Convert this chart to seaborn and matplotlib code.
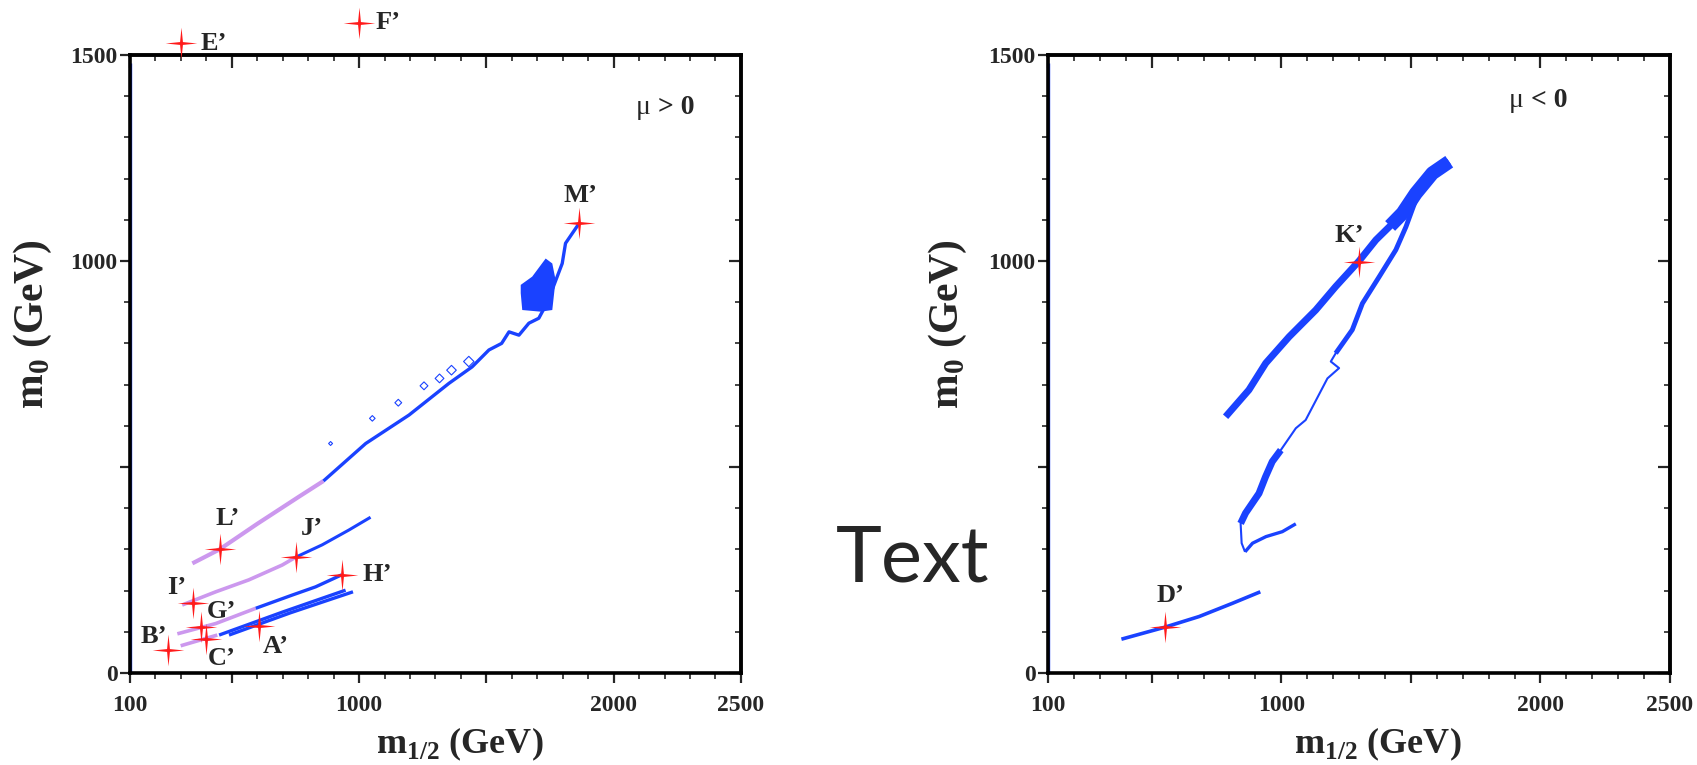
import numpy as np
import pandas as pd
import matplotlib
matplotlib.use("Agg")
import matplotlib.pyplot as plt
from matplotlib.path import Path
from matplotlib.ticker import FixedLocator, MultipleLocator, FixedFormatter
import seaborn as sns

# ---------------- data (GeV) ----------------
# left panel (mu > 0)
main_violet_x = [345, 452, 600, 764, 860]
main_violet_y = [266, 300, 362, 428, 466]
main_blue_x = [860, 1026, 1196, 1353, 1444, 1510, 1560, 1589, 1628, 1667, 1706, 1740, 1798, 1811, 1864]
main_blue_y = [466, 557, 626, 703, 743, 784, 800, 828, 820, 849, 861, 900, 994, 1043, 1091]
blob_x = [1635, 1680, 1733, 1759, 1772, 1759, 1713, 1641, 1635]
blob_y = [942, 962, 1006, 994, 954, 881, 877, 881, 922]
loop_x = [888, 1052, 1154, 1255, 1316, 1363, 1431]
loop_y = [557, 618, 656, 697, 715, 735, 756]
jv_x = [305, 437, 567, 698, 751]
jv_y = [165, 197, 226, 262, 281]
jb_x = [751, 855, 960, 1045]
jb_y = [281, 311, 347, 378]
hv_x = [286, 437, 594]
hv_y = [95, 120, 157]
hb_x = [594, 737, 829, 931]
hb_y = [157, 189, 209, 238]
lv_x = [299, 443]
lv_y = [66, 92]
s1_x = [450, 700, 947]
s1_y = [92, 148, 201]
s2_x = [489, 730, 976]
s2_y = [92, 146, 197]
edge_x = [103, 103]
edge_y = [0, 1480]

left_names = ["E’", "F’", "M’", "L’", "J’", "H’", "I’", "G’", "C’", "A’", "B’"]
left_px = [300, 1000, 1865, 452, 751, 931, 349, 378, 400, 607, 250]
left_py = [1528, 1578, 1092, 300, 281, 238, 171, 112, 83, 115, 56]

# right panel (mu < 0)
ub_x = [785, 875, 940, 1030, 1133, 1210, 1300, 1365, 1420, 1468, 1519, 1583, 1648]
ub_y = [622, 687, 752, 816, 881, 938, 1000, 1051, 1085, 1116, 1164, 1213, 1241]
ubt_x = [1420, 1468, 1519, 1583, 1648]
ubt_y = [1085, 1116, 1164, 1213, 1241]
ll_x = [1520, 1481, 1442, 1378, 1313, 1274, 1210, 1191, 1223, 1178, 1094, 1056, 998, 965, 939, 914, 862, 843, 847, 860]
ll_y = [1150, 1083, 1027, 962, 897, 833, 776, 756, 740, 715, 614, 594, 541, 513, 476, 436, 388, 363, 315, 294]
llA_x = [1520, 1481, 1442, 1378, 1313, 1274, 1210]
llA_y = [1150, 1083, 1027, 962, 897, 833, 776]
llB_x = [998, 965, 939, 914, 862, 843]
llB_y = [541, 513, 476, 436, 388, 363]
tail_x = [860, 889, 941, 1004, 1056]
tail_y = [294, 315, 331, 343, 362]
d_x = [383, 550, 683, 811, 919]
d_y = [82, 111, 137, 169, 197]

right_names = ["K’", "D’"]
right_px = [1298, 550]
right_py = [997, 111]

x_major = [100, 500, 1000, 1500, 2000, 2500]
x_labels = ["100", "", "1000", "", "2000", "2500"]
y_major = [0, 500, 1000, 1500]
y_labels = ["0", "", "1000", "1500"]

# ---------------- style ----------------
sns.set_style("white")
plt.rcParams["font.family"] = ["Liberation Serif", "DejaVu Serif"]
plt.rcParams["mathtext.fontset"] = "custom"
plt.rcParams["mathtext.rm"] = "Liberation Serif:bold"
plt.rcParams["mathtext.bf"] = "Liberation Serif:bold"

BLUE = "#1a42ff"
VIOLET = "#cc98ee"
RED = "#ff1a1a"

star_verts = [(0, 1), (0.09, 0.09), (1, 0), (0.09, -0.09), (0, -1), (-0.09, -0.09),
              (-1, 0), (-0.09, 0.09), (0, 1)]
star = Path(star_verts, closed=True)

fig = plt.figure(figsize=(16.97, 7.65), dpi=100)
axL = fig.add_axes([0.0766, 0.1203, 0.3600, 0.8078])
axR = fig.add_axes([0.6176, 0.1203, 0.3665, 0.8078])


def line(ax, xs, ys, color, lw):
    sns.lineplot(x=xs, y=ys, sort=False, estimator=None, color=color, lw=lw,
                 ax=ax, legend=False, solid_capstyle="butt")


def style_axes(ax, xlab_x, ylab_x):
    ax.set_xlim(100, 2500)
    ax.set_ylim(0, 1500)
    for s in ax.spines.values():
        s.set_linewidth(2.6)
        s.set_color("black")
        s.set_visible(True)
    ax.xaxis.set_major_locator(FixedLocator(x_major))
    ax.xaxis.set_major_formatter(FixedFormatter(x_labels))
    ax.xaxis.set_minor_locator(MultipleLocator(100))
    ax.yaxis.set_major_locator(FixedLocator(y_major))
    ax.yaxis.set_major_formatter(FixedFormatter(y_labels))
    ax.yaxis.set_minor_locator(MultipleLocator(100))
    ax.tick_params(which="major", direction="out", length=7, width=1.6,
                   labelsize=17, pad=9, bottom=True, left=True, top=False, right=False)
    ax.tick_params(which="minor", direction="out", length=4, width=1.2,
                   bottom=True, left=True, top=False, right=False)
    ax.tick_params(axis="y", which="major", pad=2)
    for lab in ax.get_xticklabels() + ax.get_yticklabels():
        lab.set_fontweight("bold")
    sx = ax.secondary_xaxis("top")
    sx.xaxis.set_major_locator(FixedLocator(x_major))
    sx.xaxis.set_minor_locator(MultipleLocator(100))
    sx.tick_params(which="major", direction="in", length=9, width=1.6, labeltop=False)
    sx.tick_params(which="minor", direction="in", length=4, width=1.2)
    sy = ax.secondary_yaxis("right")
    sy.yaxis.set_major_locator(FixedLocator(y_major))
    sy.yaxis.set_minor_locator(MultipleLocator(100))
    sy.tick_params(which="major", direction="in", length=9, width=1.6, labelright=False)
    sy.tick_params(which="minor", direction="in", length=4, width=1.2)
    for sec in (sx, sy):
        for s in sec.spines.values():
            s.set_linewidth(2.6)
    ax.set_xlabel("m$_{\\mathbf{1/2}}$ (GeV)", fontsize=26, fontweight="bold")
    ax.set_ylabel("m$_{\\mathbf{0}}$ (GeV)", fontsize=30, fontweight="bold")
    ax.xaxis.set_label_coords(xlab_x, -0.085)
    ax.yaxis.set_label_coords(ylab_x, 0.565)


# ---- left panel ----
line(axL, edge_x, edge_y, BLUE, 1.0)
line(axL, main_violet_x, main_violet_y, VIOLET, 3.0)
line(axL, main_blue_x, main_blue_y, BLUE, 2.4)
axL.fill(blob_x, blob_y, color=BLUE, lw=0)
sns.scatterplot(x=loop_x, y=loop_y, marker="D", s=[4, 8, 12, 16, 20, 24, 28],
                facecolor="none", edgecolor=BLUE, linewidth=0.8, ax=axL, legend=False)
line(axL, jv_x, jv_y, VIOLET, 2.6)
line(axL, jb_x, jb_y, BLUE, 2.2)
line(axL, hv_x, hv_y, VIOLET, 2.6)
line(axL, hb_x, hb_y, BLUE, 2.4)
line(axL, lv_x, lv_y, VIOLET, 2.6)
line(axL, s1_x, s1_y, BLUE, 2.4)
line(axL, s2_x, s2_y, BLUE, 2.4)
sns.scatterplot(x=left_px, y=left_py, marker=star, s=520, color=RED, linewidth=0,
                ax=axL, legend=False, clip_on=False, zorder=5)

left_offsets = {"E’": (14, 0, "left"), "F’": (12, 0, "left"), "M’": (1, 20, "center"),
                "L’": (6, 22, "center"), "J’": (12, 21, "center"), "H’": (15, 0, "left"),
                "I’": (-12, 11, "center"), "G’": (15, 11, "center"), "C’": (11, -14, "center"),
                "A’": (12, -15, "center"), "B’": (-10, 10, "center")}
for n, x, y in zip(left_names, left_px, left_py):
    dx, dy, ha = left_offsets[n]
    axL.annotate(n, (x, y), xytext=(dx, dy), textcoords="offset points", ha=ha,
                 va="center", fontsize=19, fontweight="bold", annotation_clip=False)

axL.text(2174, 1358, "μ ", ha="right", va="baseline", fontsize=20)
axL.text(2174, 1358, "> 0", ha="left", va="baseline", fontsize=20, fontweight="bold")

# ---- right panel ----
line(axR, edge_x, edge_y, BLUE, 1.0)
line(axR, ub_x, ub_y, BLUE, 5.0)
line(axR, ubt_x, ubt_y, BLUE, 10)
line(axR, ll_x, ll_y, BLUE, 1.5)
line(axR, llA_x, llA_y, BLUE, 3.5)
line(axR, llB_x, llB_y, BLUE, 5)
line(axR, tail_x, tail_y, BLUE, 2.4)
line(axR, d_x, d_y, BLUE, 2.6)
sns.scatterplot(x=right_px, y=right_py, marker=star, s=520, color=RED, linewidth=0,
                ax=axR, legend=False, clip_on=False, zorder=5)
right_offsets = {"K’": (-7, 19), "D’": (4, 23)}
for n, x, y in zip(right_names, right_px, right_py):
    dx, dy = right_offsets[n]
    axR.annotate(n, (x, y), xytext=(dx, dy), textcoords="offset points", ha="center",
                 va="center", fontsize=19, fontweight="bold")

axR.text(1965, 1374, "μ ", ha="right", va="baseline", fontsize=20)
axR.text(1965, 1374, "< 0", ha="left", va="baseline", fontsize=20, fontweight="bold")

style_axes(axL, 0.54, -0.124)
style_axes(axR, 0.53, -0.127)

fig.text(0.538, 0.268, "Text", fontsize=56, family="Lato", ha="center", va="center")

fig.savefig("out.png", dpi=100)
